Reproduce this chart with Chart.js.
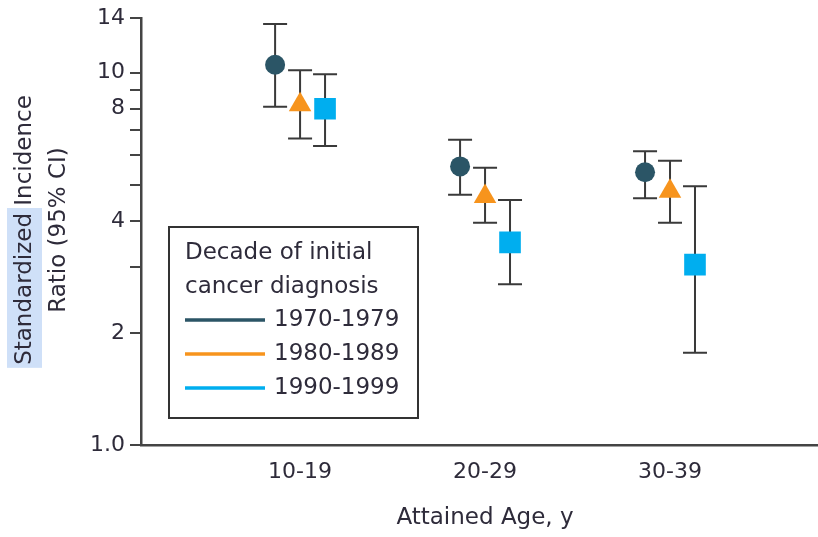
<!DOCTYPE html>
<html>
<head>
<meta charset="utf-8">
<script src="https://cdn.jsdelivr.net/npm/chart.js@4.4.1/dist/chart.umd.min.js"></script>
<style>
  html, body { margin: 0; padding: 0; background: #fff; }
  #wrap { width: 818px; height: 537px; position: relative; }
</style>
</head>
<body>
<div id="wrap"><canvas id="sirChart"></canvas></div>
<script>
// categories and series
const ageGroups = ['10-19', '20-29', '30-39'];
const decades = ['1970-1979', '1980-1989', '1990-1999'];

const sir1970 = [10.5, 5.6, 5.4];
const lo1970 = [8.1, 4.7, 4.6];
const hi1970 = [13.5, 6.6, 6.15];

const sir1980 = [8.2, 4.65, 4.8];
const lo1980 = [6.65, 3.95, 3.95];
const hi1980 = [10.15, 5.55, 5.8];

const sir1990 = [8.0, 3.5, 3.05];
const lo1990 = [6.35, 2.7, 1.77];
const hi1990 = [9.9, 4.55, 4.95];

// y axis ticks (minor ones have no label)
const yTicks = [1, 2, 3, 4, 5, 6, 7, 8, 9, 10, 14];
const yLabels = ['1.0', '2', '', '4', '', '', '', '8', '', '10', '14'];

const legendTitle = ['Decade of initial', 'cancer diagnosis'];
const xTitle = 'Attained Age, y';
const yTitle = ['Standardized Incidence', 'Ratio (95% CI)'];

const FONT = 'DejaVu Sans';
const textColor = '#2e2b3a';
const axisColor = '#444';
const colors = ['#2b5566', '#f7941d', '#00aeef'];
const shapes = ['circle', 'triangle', 'rect'];
const radii = [10, 13, 15.3];
const dodge = [-0.135, 0, 0.135];

const sirs = [sir1970, sir1980, sir1990];
const lows = [lo1970, lo1980, lo1990];
const highs = [hi1970, hi1980, hi1990];

const datasets = decades.map((d, i) => ({
  label: d,
  data: sirs[i].map((v, j) => ({ x: j + 1 + dodge[i], y: v })),
  pointStyle: shapes[i],
  pointRadius: radii[i],
  pointHoverRadius: radii[i],
  backgroundColor: colors[i],
  borderColor: colors[i],
  pointBorderWidth: 0,
  showLine: false,
  lo: lows[i],
  hi: highs[i]
}));

// error bars drawn under the markers
const errorBars = {
  id: 'errorBars',
  beforeDatasetsDraw(chart) {
    const ctx = chart.ctx;
    const yScale = chart.scales.y;
    ctx.save();
    ctx.strokeStyle = '#3a3a3a';
    ctx.lineWidth = 2;
    chart.data.datasets.forEach((ds, i) => {
      const meta = chart.getDatasetMeta(i);
      meta.data.forEach((pt, j) => {
        const yLo = yScale.getPixelForValue(ds.lo[j]);
        const yHi = yScale.getPixelForValue(ds.hi[j]);
        ctx.beginPath();
        ctx.moveTo(pt.x, yLo); ctx.lineTo(pt.x, yHi);
        ctx.moveTo(pt.x - 12, yLo); ctx.lineTo(pt.x + 12, yLo);
        ctx.moveTo(pt.x - 12, yHi); ctx.lineTo(pt.x + 12, yHi);
        ctx.stroke();
      });
    });
    ctx.restore();
  }
};

// legend box, axis titles
const extras = {
  id: 'extras',
  afterDraw(chart) {
    const ctx = chart.ctx;
    ctx.save();
    ctx.font = '23px "' + FONT + '"';
    ctx.fillStyle = textColor;
    ctx.textBaseline = 'middle';

    // legend
    ctx.strokeStyle = '#333';
    ctx.lineWidth = 2;
    ctx.strokeRect(169, 227, 249, 191);
    ctx.textAlign = 'left';
    ctx.fillText(legendTitle[0], 185, 253);
    ctx.fillText(legendTitle[1], 185, 287);
    chart.data.datasets.forEach((ds, i) => {
      const y = 320 + i * 34;
      ctx.strokeStyle = ds.borderColor;
      ctx.lineWidth = 3.5;
      ctx.beginPath();
      ctx.moveTo(185, y); ctx.lineTo(265, y);
      ctx.stroke();
      ctx.fillStyle = textColor;
      ctx.fillText(ds.label, 274, y);
    });

    // x title
    ctx.textAlign = 'center';
    ctx.fillText(xTitle, 485, 518);

    // y title, rotated, with the highlighted word
    ctx.translate(0, 230);
    ctx.rotate(-Math.PI / 2);
    const w1 = ctx.measureText(yTitle[0]).width;
    const wHi = ctx.measureText('Standardized').width;
    ctx.fillStyle = '#cfe0f8';
    ctx.fillRect(-w1 / 2 - 3, 7, wHi + 8, 35);
    ctx.fillStyle = textColor;
    ctx.fillText(yTitle[0], 0, 25);
    ctx.fillText(yTitle[1], 0, 59);
    ctx.restore();
  }
};

const ctx = document.getElementById('sirChart').getContext('2d');
new Chart(ctx, {
  type: 'scatter',
  data: { datasets: datasets },
  plugins: [errorBars, extras],
  options: {
    responsive: true,
    maintainAspectRatio: false,
    animation: false,
    layout: { autoPadding: false, padding: { top: 16, right: 0, left: 0, bottom: 0 } },
    plugins: {
      legend: { display: false },
      tooltip: { enabled: false }
    },
    scales: {
      x: {
        type: 'linear',
        min: 0.14,
        max: 3.8,
        afterBuildTicks: s => { s.ticks = ageGroups.map((_, i) => ({ value: i + 1 })); },
        afterFit: s => { s.height = 92; },
        ticks: {
          autoSkip: false,
          maxRotation: 0,
          padding: 14,
          color: textColor,
          font: { family: FONT, size: 22 },
          callback: v => ageGroups[v - 1]
        },
        grid: { display: false, drawTicks: false },
        border: { display: true, color: axisColor, width: 2.5 }
      },
      y: {
        type: 'logarithmic',
        min: 1,
        max: 14,
        afterBuildTicks: s => { s.ticks = yTicks.map(v => ({ value: v })); },
        afterFit: s => { s.width = 141; },
        ticks: {
          autoSkip: false,
          padding: 5,
          color: textColor,
          font: { family: FONT, size: 22 },
          callback: v => yLabels[yTicks.indexOf(v)]
        },
        grid: { display: true, drawOnChartArea: false, tickLength: 11, color: axisColor, lineWidth: 2 },
        border: { display: true, color: axisColor, width: 2.5 }
      }
    }
  }
});
</script>
</body>
</html>
